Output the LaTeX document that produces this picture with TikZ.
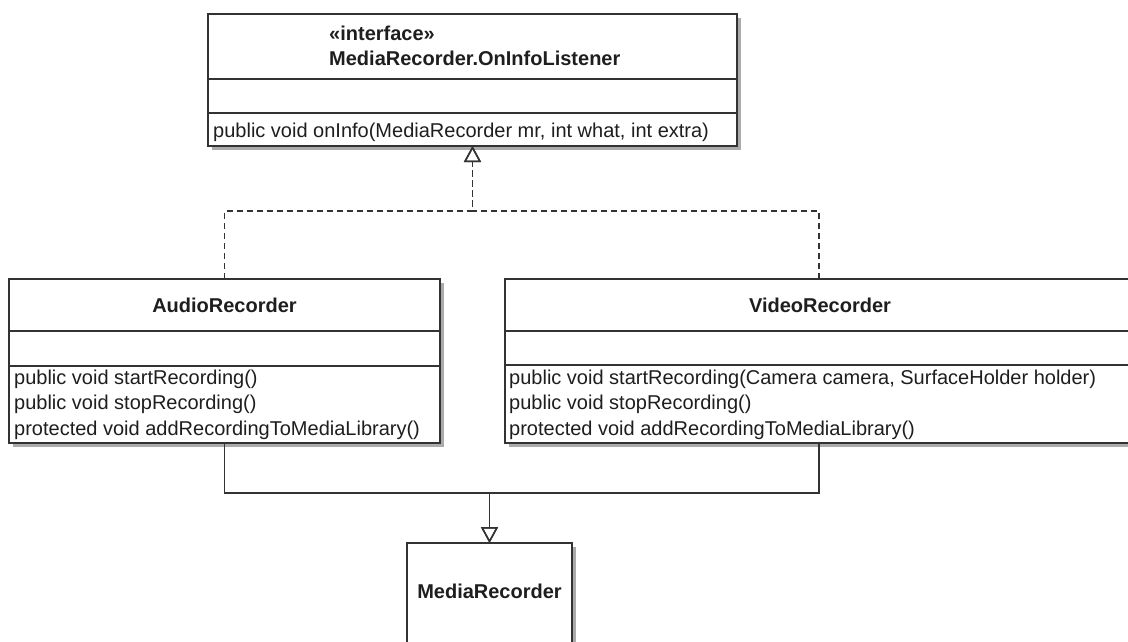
\documentclass[tikz,border=0pt]{standalone}
\usepackage{fontspec}
\setmainfont{Liberation Sans}
\usetikzlibrary{arrows.meta,shadows}
\definecolor{umlline}{HTML}{333333}
\definecolor{umltext}{HTML}{1E1E1E}
\begin{document}
\begin{tikzpicture}[x=1pt,y=-1pt,
  font=\fontsize{20}{24}\selectfont,
  classbox/.style={draw=umlline, line width=1.6pt, fill=white, inner sep=0pt, outer sep=0pt,
    drop shadow={shadow xshift=4pt, shadow yshift=-4pt, fill=black!55, opacity=0.6}},
  member/.style={anchor=west, inner sep=0pt, text=umltext, text height=14.5pt, text depth=4.2pt},
  classname/.style={member, anchor=center, font=\fontsize{20}{24}\selectfont\bfseries},
  divider/.style={draw=umlline, line width=1.4pt},
  realize/.style={draw=umlline, line width=1.5pt, line join=miter, dash pattern=on 6pt off 4pt,
    -{Triangle[open, length=16pt, width=17pt]}},
  generalize/.style={draw=umlline, line width=1.5pt, line join=miter,
    -{Triangle[open, length=16pt, width=17pt]}}
]
\useasboundingbox (0,0) rectangle (1128,641);
\fill[white] (0,0) rectangle (1128,641);

% interface MediaRecorder.OnInfoListener
\node[classbox, minimum width=529pt, minimum height=132pt] (iface) at (472.5,80) {};
\draw[divider] (208,79) -- (737,79);
\draw[divider] (208,113) -- (737,113);
\node[member, font=\fontsize{20}{24}\selectfont\bfseries] (ifstereo) at (329,35) {«interface»};
\node[member, font=\fontsize{20}{24}\selectfont\bfseries] (ifname) at (329,60) {MediaRecorder.OnInfoListener};
\node[member] (ifop) at (213,132) {public void onInfo(MediaRecorder mr, int what, int extra)};

% class AudioRecorder
\node[classbox, minimum width=431pt, minimum height=164pt] (audio) at (224.5,361) {};
\draw[divider] (9,331) -- (440,331);
\draw[divider] (9,366) -- (440,366);
\node[classname] (audioname) at (224.5,307) {AudioRecorder};
\node[member] (audioop1) at (14,379) {public void startRecording()};
\node[member] (audioop2) at (14,404) {public void stopRecording()};
\node[member] (audioop3) at (14,430) {protected void addRecordingToMediaLibrary()};

% class VideoRecorder
\node[classbox, minimum width=628pt, minimum height=164pt] (video) at (819,361) {};
\draw[divider] (505,331) -- (1133,331);
\draw[divider] (505,365) -- (1133,365);
\node[classname] (videoname) at (820,307) {VideoRecorder};
\node[member] (videoop1) at (509,379) {public void startRecording(Camera camera, SurfaceHolder holder)};
\node[member] (videoop2) at (509,404) {public void stopRecording()};
\node[member] (videoop3) at (509,430) {protected void addRecordingToMediaLibrary()};

% class MediaRecorder
\node[classbox, minimum width=165pt, minimum height=117pt] (media) at (489.5,601.5) {};
\node[classname] (medianame) at (489.5,593) {MediaRecorder};

% realization of the listener interface
\coordinate (rjoin) at (472.5,211);
\draw[realize] (audio.north) |- (rjoin) -- (iface.south);
\draw[realize] (video.north) |- (rjoin) -- (iface.south);

% generalization towards MediaRecorder
\coordinate (gjoin) at (489.5,493);
\draw[generalize] (audio.south) |- (gjoin) -- (media.north);
\draw[generalize] (video.south) |- (gjoin) -- (media.north);
\end{tikzpicture}
\end{document}
